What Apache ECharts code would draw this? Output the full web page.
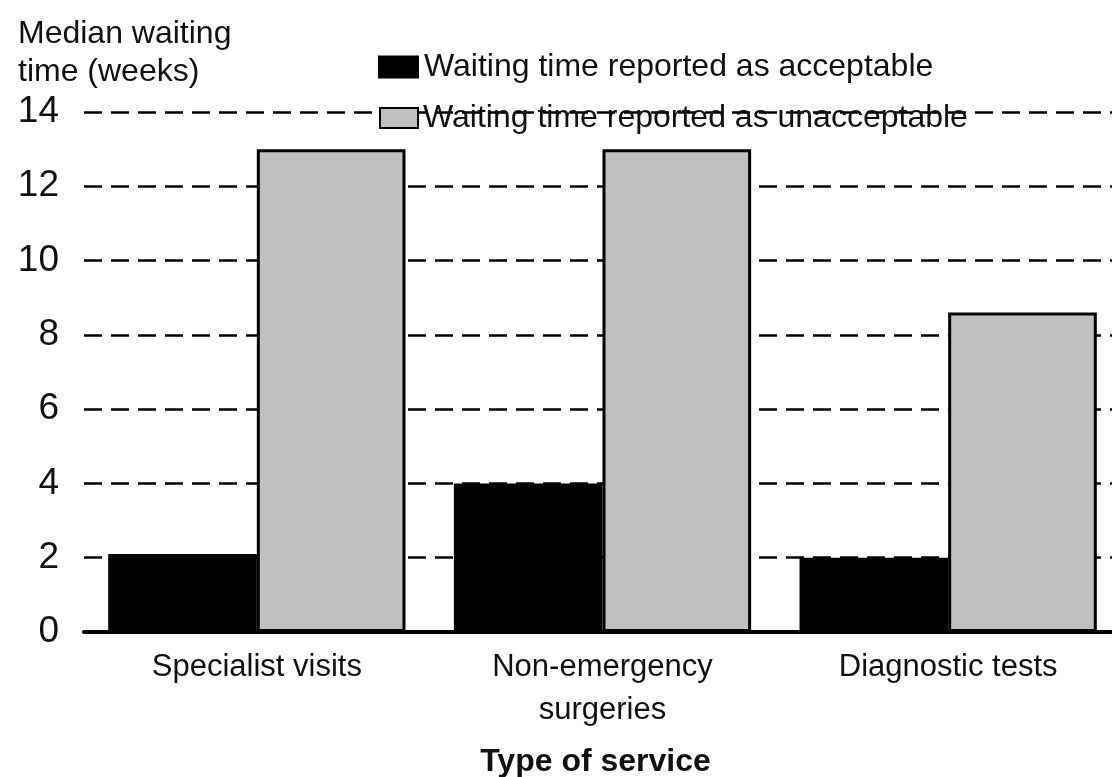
<!DOCTYPE html>
<html>
<head>
<meta charset="utf-8">
<script src="https://cdn.jsdelivr.net/npm/echarts@6/dist/echarts.min.js"></script>
<style>
html,body{margin:0;padding:0;background:#fff;}
#chart{width:1112px;height:777px;}
</style>
</head>
<body>
<div id="chart"></div>
<script>
const categories = ['Specialist visits', 'Non-emergency\nsurgeries', 'Diagnostic tests'];
const seriesNames = ['Waiting time reported as acceptable', 'Waiting time reported as unacceptable'];
const acceptable = [2.1, 4, 2];
const unacceptable = [13, 13, 8.6];
const yTicks = [0, 2, 4, 6, 8, 10, 12, 14];

const FONT = '"Liberation Sans", Arial, sans-serif';
const chart = echarts.init(document.getElementById('chart'), null, {renderer: 'canvas'});
chart.setOption({
  backgroundColor: '#fff',
  animation: false,
  textStyle: {fontFamily: FONT, color: '#111'},
  title: {
    text: 'Median waiting\ntime (weeks)',
    left: 13, top: 10,
    textStyle: {fontFamily: FONT, fontSize: 32, fontWeight: 'normal', color: '#111', lineHeight: 38}
  },
  legend: [
    {
      data: [seriesNames[0]], left: 373, top: 46, icon: 'rect', itemWidth: 41, itemHeight: 23, itemGap: 3,
      textStyle: {fontFamily: FONT, fontSize: 32, color: '#111'}
    },
    {
      data: [seriesNames[1]], left: 374, top: 97, icon: 'rect', itemWidth: 38, itemHeight: 20, itemGap: 4,
      textStyle: {fontFamily: FONT, fontSize: 32, color: '#111'}
    }
  ],
  grid: {left: 84, right: -9, top: 112, bottom: 145, containLabel: false, outerBoundsMode: 'none'},
  xAxis: {
    type: 'category',
    data: categories,
    name: 'Type of service',
    nameLocation: 'middle',
    nameGap: 114,
    nameTextStyle: {fontFamily: FONT, fontSize: 32, fontWeight: 'bold', color: '#111', padding: [0, 14, 0, 0]},
    axisLine: {lineStyle: {color: '#000', width: 4}},
    axisTick: {show: false},
    axisLabel: {interval: 0, fontFamily: FONT, fontSize: 31, color: '#111', lineHeight: 43, margin: 14}
  },
  yAxis: {
    type: 'value',
    min: yTicks[0], max: yTicks[yTicks.length - 1], interval: 2,
    axisLine: {show: false},
    axisTick: {show: false},
    axisLabel: {fontFamily: FONT, fontSize: 37, color: '#111', margin: 25},
    splitLine: {lineStyle: {color: '#000', width: 2.5, type: [18, 9]}}
  },
  series: [
    {
      name: seriesNames[0], type: 'bar', data: acceptable,
      barGap: '0%', barCategoryGap: '14%',
      itemStyle: {color: '#000'}
    },
    {
      name: seriesNames[1], type: 'bar', data: unacceptable,
      barGap: '0%', barCategoryGap: '14%',
      itemStyle: {color: '#c0c0c0', borderColor: '#000', borderWidth: 3}
    }
  ]
});
</script>
</body>
</html>
